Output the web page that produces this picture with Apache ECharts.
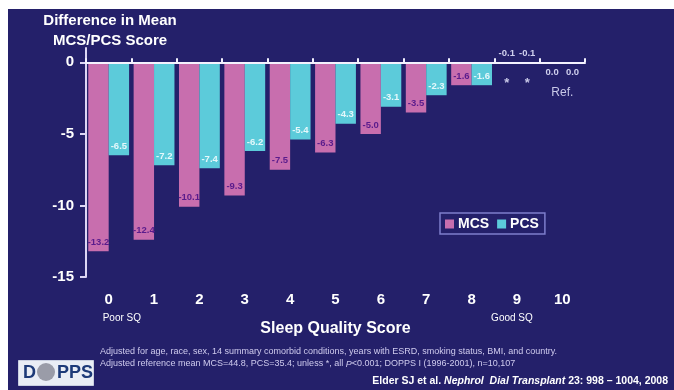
<!DOCTYPE html>
<html>
<head>
<meta charset="utf-8">
<title>Sleep quality and MCS/PCS</title>
<script src="https://cdn.jsdelivr.net/npm/echarts@6/dist/echarts.min.js"></script>
<style>
  body { margin: 0; background: #fff; }
  #main { width: 674px; height: 390px; }
</style>
</head>
<body>
<div id="main"></div>
<script>
var categories = ['0', '1', '2', '3', '4', '5', '6', '7', '8', '9', '10'];
var mcs = [-13.2, -12.4, -10.1, -9.3, -7.5, -6.3, -5.0, -3.5, -1.6, -0.1, 0.0];
var pcs = [-6.5, -7.2, -7.4, -6.2, -5.4, -4.3, -3.1, -2.3, -1.6, -0.1, 0.0];
var yTicks = [-15, -10, -5, 0];

var navy = '#24206a';
var pink = '#c86eae';
var cyan = '#5ccbda';
var font = 'Liberation Sans';

// small bars (near zero) get their labels outside the bar
function barData(values, labelColor) {
  return values.map(function (v) {
    if (v === 0) {
      return { value: v, label: { position: 'bottom', distance: 5, color: '#d0d0ee' } };
    }
    if (v > -0.5) {
      return { value: v, label: { position: 'top', distance: 4, color: '#d0d0ee' } };
    }
    return { value: v, label: { color: labelColor } };
  });
}

var myChart = echarts.init(document.getElementById('main'));

var option = {
  backgroundColor: navy,
  animation: false,
  textStyle: { fontFamily: font },
  grid: { left: 86, right: 89, top: 48, bottom: 113, containLabel: false, outerBoundsMode: 'none' },
  legend: {
    left: 440,
    top: 213,
    icon: 'rect',
    itemWidth: 9,
    itemHeight: 9,
    itemGap: 8,
    padding: [4, 6, 3, 5],
    borderColor: '#7d7dcc',
    borderWidth: 1.5,
    textStyle: { color: '#fff', fontWeight: 'bold', fontSize: 14, fontFamily: font, padding: [0, 0, 0, -1] },
    data: ['MCS', 'PCS']
  },
  xAxis: [{
    type: 'category',
    data: categories,
    position: 'top',
    z: 5,
    axisLine: { onZero: true, lineStyle: { color: '#f4f2ff', width: 2 } },
    axisTick: { show: true, length: 4, lineStyle: { color: '#f4f2ff', width: 2 } },
    axisLabel: { show: false },
    splitLine: { show: false }
  }, {
    type: 'category',
    data: categories,
    position: 'bottom',
    axisLine: { show: false },
    axisTick: { show: false },
    axisLabel: { color: '#fff', fontWeight: 'bold', fontSize: 15, margin: 15, fontFamily: font },
    name: 'Sleep Quality Score',
    nameLocation: 'middle',
    nameGap: 44,
    nameTextStyle: { color: '#fff', fontWeight: 'bold', fontSize: 16, fontFamily: font }
  }],
  yAxis: {
    type: 'value',
    min: -15,
    max: 1,
    interval: 5,
    name: 'Difference in Mean\nMCS/PCS Score',
    nameLocation: 'end',
    nameGap: -3,
    nameTextStyle: {
      color: '#fff', fontWeight: 'bold', fontSize: 15, lineHeight: 20,
      padding: [0, 0, 0, 48], fontFamily: font, align: 'center'
    },
    axisLine: { show: true, lineStyle: { color: '#dcd6f4', width: 2 } },
    axisTick: { show: true, length: 6, customValues: yTicks, lineStyle: { color: '#dcd6f4', width: 2 } },
    axisLabel: {
      customValues: yTicks,
      color: '#fff', fontWeight: 'bold', fontSize: 15, margin: 12, fontFamily: font
    },
    splitLine: { show: false }
  },
  series: [{
    name: 'MCS',
    type: 'bar',
    xAxisIndex: 0,
    barGap: '0%',
    barCategoryGap: '10%',
    itemStyle: { color: pink },
    label: {
      show: true, position: 'insideBottom', distance: 4,
      fontSize: 9.5, fontWeight: 'bold', fontFamily: font,
      formatter: function (p) { return p.value.toFixed(1); }
    },
    data: barData(mcs, '#5a1c8c')
  }, {
    name: 'PCS',
    type: 'bar',
    xAxisIndex: 0,
    barGap: '0%',
    barCategoryGap: '10%',
    itemStyle: { color: cyan },
    label: {
      show: true, position: 'insideBottom', distance: 4,
      fontSize: 9.5, fontWeight: 'bold', fontFamily: font,
      formatter: function (p) { return p.value.toFixed(1); }
    },
    data: barData(pcs, '#e4f8fb')
  }]
};

myChart.setOption(option);

// annotations placed from the axis scales
var c0 = myChart.convertToPixel({ xAxisIndex: 0, yAxisIndex: 0 }, [0, 0]);
var c9 = myChart.convertToPixel({ xAxisIndex: 0, yAxisIndex: 0 }, [9, 0]);
var c10 = myChart.convertToPixel({ xAxisIndex: 0, yAxisIndex: 0 }, [10, 0]);
var bottomY = myChart.convertToPixel({ yAxisIndex: 0 }, -15);
var half = (c10[0] - c9[0]) * 0.9 / 4;

myChart.setOption({
  graphic: [
    { type: 'rect', left: 0, top: 0, shape: { width: 674, height: 9 }, style: { fill: '#fff' }, silent: true },
    { type: 'rect', left: 0, top: 0, shape: { width: 8, height: 390 }, style: { fill: '#fff' }, silent: true },
    { type: 'text', x: c9[0] - half, y: c9[1] + 21, style: { text: '*', fill: '#c8c8e8', font: 'bold 13px ' + font, align: 'center', verticalAlign: 'middle' } },
    { type: 'text', x: c9[0] + half, y: c9[1] + 21, style: { text: '*', fill: '#c8c8e8', font: 'bold 13px ' + font, align: 'center', verticalAlign: 'middle' } },
    { type: 'text', x: c10[0], y: c10[1] + 30, style: { text: 'Ref.', fill: '#c8c8e8', font: '12px ' + font, align: 'center', verticalAlign: 'middle' } },
    { type: 'text', x: c0[0] - 6, y: bottomY + 41, style: { text: 'Poor SQ', fill: '#fff', font: '10px ' + font, align: 'left', verticalAlign: 'middle' } },
    { type: 'text', x: c9[0] - 5, y: bottomY + 41, style: { text: 'Good SQ', fill: '#fff', font: '10px ' + font, align: 'center', verticalAlign: 'middle' } },
    {
      type: 'text', left: 100, top: 346,
      style: {
        text: 'Adjusted for age, race, sex, 14 summary comorbid conditions, years with ESRD, smoking status, BMI, and country.\nAdjusted reference mean MCS=44.8, PCS=35.4; unless *, all {i|P}<0.001; DOPPS I (1996-2001), n=10,107',
        fill: '#cfcbee', font: '9px ' + font, lineHeight: 12,
        rich: { i: { fontStyle: 'italic', fontSize: 9, fill: '#cfcbee' } }
      }
    },
    {
      type: 'text', right: 6, top: 376,
      style: {
        text: 'Elder SJ et al. {i|Nephrol  Dial Transplant} 23: 998 \u2013 1004, 2008',
        fill: '#fff', font: 'bold 10.5px ' + font,
        rich: { i: { fontStyle: 'italic', fontWeight: 'bold', fontSize: 10.5, fill: '#fff' } }
      }
    },
    { type: 'rect', left: 18, top: 360, shape: { width: 75, height: 25 }, style: { fill: '#e9edf5', stroke: '#c9cfe0' } },
    { type: 'circle', left: 37, top: 363, shape: { r: 9 }, style: { fill: '#9a9ca8' } },
    { type: 'text', left: 23, top: 364, style: { text: 'D', fill: '#1d3a78', font: 'bold 18px ' + font } },
    { type: 'text', left: 57, top: 364, style: { text: 'PPS', fill: '#1d3a78', font: 'bold 18px ' + font } }
  ]
});
</script>
</body>
</html>
